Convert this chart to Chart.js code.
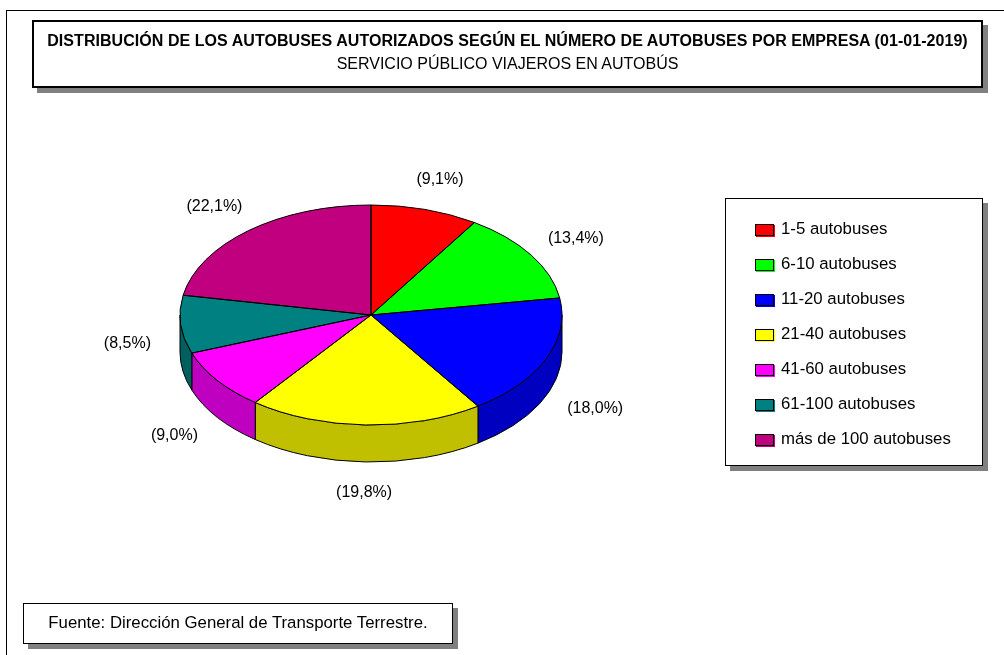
<!DOCTYPE html>
<html lang="es">
<head>
<meta charset="utf-8">
<title>Distribución de los autobuses autorizados</title>
<script src="https://cdn.jsdelivr.net/npm/chart.js@4.4.1/dist/chart.umd.min.js"></script>
<style>
  html, body { margin: 0; padding: 0; background: #fff; }
  body { width: 1004px; height: 655px; position: relative; overflow: hidden;
         font-family: "Liberation Sans", Arial, sans-serif; color: #000; }
  #chart { position: absolute; left: 0; top: 0; }
  .frame { position: absolute; left: 6px; top: 10px; width: 1010px; height: 660px;
           border-top: 1px solid #000; border-left: 1px solid #000; }
  .box { position: absolute; background: #fff; border: 2px solid #000;
         box-shadow: 5px 5px 0 #808080; box-sizing: border-box; }
  #title-box { left: 32px; top: 20px; width: 951px; height: 68px; text-align: center; }
  #title-box .t1 { font-weight: bold; font-size: 16px; line-height: 18px; margin-top: 10px; letter-spacing: 0.05px; }
  #title-box .t2 { font-size: 16px; line-height: 18px; margin-top: 5px; }
  #legend-box { left: 725px; top: 198px; width: 258px; height: 268px; border-width: 1.5px; }
  #legend-box ul { list-style: none; margin: 0; padding: 20px 0 0 29px; }
  #legend-box li { height: 35px; font-size: 16.8px; line-height: 19px; display: flex; align-items: flex-start; }
  #legend-box .sw { display: inline-block; width: 17px; height: 10px; border: 1px solid #000;
                    margin: 5px 7px 0 0; flex: none; }
  #source-box { left: 23px; top: 603px; width: 430px; height: 41px; font-size: 16.8px;
                line-height: 37px; text-align: center; border-width: 1.5px; }
</style>
</head>
<body>
<canvas id="chart" width="1004" height="655"></canvas>
<div class="frame"></div>
<div class="box" id="title-box">
  <div class="t1">DISTRIBUCIÓN DE LOS AUTOBUSES AUTORIZADOS SEGÚN EL NÚMERO DE AUTOBUSES POR EMPRESA (01-01-2019)</div>
  <div class="t2">SERVICIO PÚBLICO VIAJEROS EN AUTOBÚS</div>
</div>
<div class="box" id="legend-box"><ul id="legend"></ul></div>
<div class="box" id="source-box">Fuente: Dirección General de Transporte Terrestre.</div>

<script>
// ─── DATA ───
const categories = ['1-5 autobuses', '6-10 autobuses', '11-20 autobuses', '21-40 autobuses',
                    '41-60 autobuses', '61-100 autobuses', 'más de 100 autobuses'];
const shares = [9.1, 13.4, 18.0, 19.8, 9.0, 8.5, 22.1];
const topColors = ['#ff0000', '#00ff00', '#0000ff', '#ffff00', '#ff00ff', '#008080', '#c0007f'];
const sideColors = ['#c00000', '#00c000', '#0000c0', '#c0c000', '#c000c0', '#006060', '#900060'];

// ─── PIE GEOMETRY (layout only) ───
const CX = 371, CY = 315, RX = 191, RY = 110, DEPTH = 37;

const fmtPct = v => '(' + v.toFixed(1).replace('.', ',') + '%)';

function arcAngles(arc) {
    return arc.getProps(['startAngle', 'endAngle'], true);
}

function ellipsePt(a, dy) {
    return [CX + RX * Math.cos(a), CY + dy + RY * Math.sin(a)];
}

const pie3d = {
    id: 'pie3d',
    beforeDatasetsDraw(chart) {
        const ctx = chart.ctx;
        const arcs = chart.getDatasetMeta(0).data;
        ctx.save();
        ctx.lineWidth = 1;
        ctx.strokeStyle = '#000';
        arcs.forEach((arc, i) => {
            const { startAngle, endAngle } = arcAngles(arc);
            // only the front half (sin > 0) of the rim is visible
            [-2 * Math.PI, 0, 2 * Math.PI].forEach(k => {
                const a1 = Math.max(startAngle, k);
                const a2 = Math.min(endAngle, k + Math.PI);
                if (a2 <= a1) return;
                const p1 = ellipsePt(a1, 0);
                const p2 = ellipsePt(a2, DEPTH);
                ctx.beginPath();
                ctx.moveTo(p1[0], p1[1]);
                ctx.ellipse(CX, CY, RX, RY, 0, a1, a2);
                ctx.lineTo(p2[0], p2[1]);
                ctx.ellipse(CX, CY + DEPTH, RX, RY, 0, a2, a1, true);
                ctx.closePath();
                ctx.fillStyle = sideColors[i];
                ctx.fill();
                ctx.stroke();
            });
        });
        ctx.restore();
    },
    beforeDatasetDraw(chart) {
        const ctx = chart.ctx;
        const arc = chart.getDatasetMeta(0).data[0];
        const r = arc.outerRadius;
        ctx.save();
        ctx.translate(CX, CY);
        ctx.scale(RX / r, RY / r);
        ctx.translate(-arc.x, -arc.y);
    },
    afterDatasetDraw(chart) {
        chart.ctx.restore();
    },
    afterDatasetsDraw(chart) {
        const ctx = chart.ctx;
        const arcs = chart.getDatasetMeta(0).data;
        ctx.save();
        ctx.lineWidth = 1;
        ctx.strokeStyle = '#000';
        arcs.forEach(arc => {
            const { startAngle, endAngle } = arcAngles(arc);
            ctx.beginPath();
            ctx.moveTo(CX, CY);
            ctx.ellipse(CX, CY, RX, RY, 0, startAngle, endAngle);
            ctx.closePath();
            ctx.stroke();
        });
        // percentage labels
        ctx.fillStyle = '#000';
        ctx.font = '16px "Liberation Sans", Arial, sans-serif';
        ctx.textAlign = 'center';
        ctx.textBaseline = 'middle';
        arcs.forEach((arc, i) => {
            const { startAngle, endAngle } = arcAngles(arc);
            const mid = (startAngle + endAngle) / 2;
            const s = Math.sin(mid);
            const x = CX + RX * 1.28 * Math.cos(mid);
            const y = CY + RY * 1.28 * s + DEPTH * Math.min(Math.max(s * 5, 0), 1);
            ctx.fillText(fmtPct(shares[i]), x, y);
        });
        ctx.restore();
    }
};

new Chart(document.getElementById('chart'), {
    type: 'pie',
    data: {
        labels: categories,
        datasets: [{
            data: shares,
            backgroundColor: topColors,
            borderWidth: 0,
            clip: false
        }]
    },
    options: {
        responsive: false,
        animation: false,
        radius: RX,
        plugins: { legend: { display: false }, tooltip: { enabled: false } }
    },
    plugins: [pie3d]
});

// ─── LEGEND ───
document.getElementById('legend').innerHTML = categories.map((c, i) => `
    <li><span class="sw" style="background:${topColors[i]}; box-shadow:1px 1px 0 ${topColors[i]}"></span>${c}</li>
`).join('');
</script>
</body>
</html>
